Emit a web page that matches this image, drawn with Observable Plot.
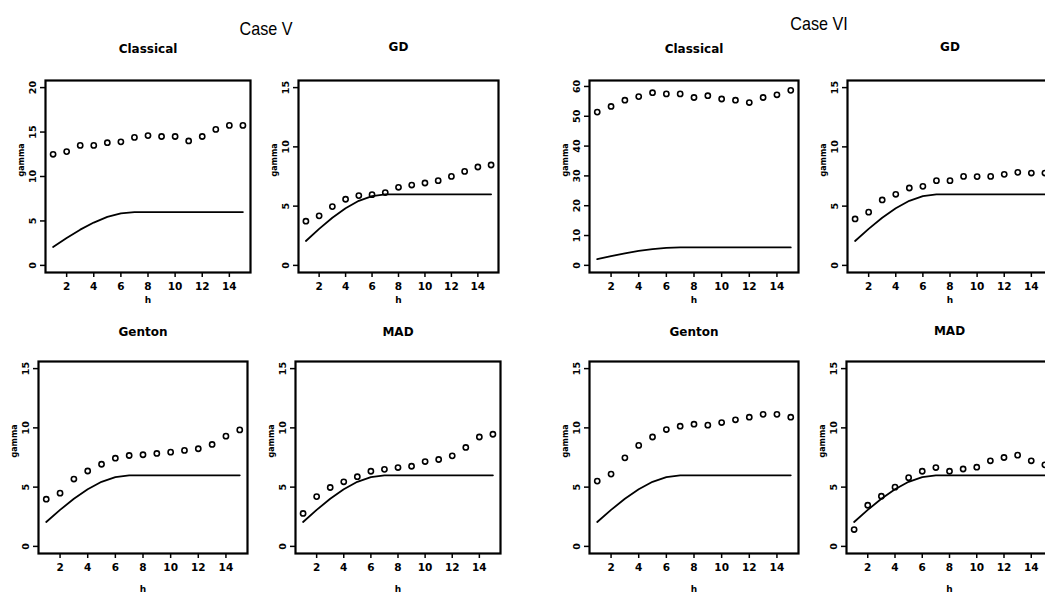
<!DOCTYPE html>
<html>
<head>
<meta charset="utf-8">
<script src="https://cdn.jsdelivr.net/npm/d3@7"></script>
<script src="https://cdn.jsdelivr.net/npm/@observablehq/plot@0.6"></script>
<style>
  html, body { margin: 0; padding: 0; background: #fff; overflow: hidden; }
  #wrap { position: relative; width: 1045px; height: 597px; overflow: hidden; background: #fff; }
  #wrap > div.panel { position: absolute; }
  #wrap svg { max-width: none !important; }
  .case { position: absolute; font-family: 'Liberation Sans', 'DejaVu Sans', sans-serif; font-size: 19px; color: #000; transform: translate(-50%, -50%) scaleX(0.85); white-space: nowrap; }
</style>
</head>
<body>
<div id="wrap"></div>
<script>
// ---- data ----
const lags = [1, 2, 3, 4, 5, 6, 7, 8, 9, 10, 11, 12, 13, 14, 15];
const theoretical = [2.06, 3.08, 4.02, 4.82, 5.45, 5.85, 6.0, 6.0, 6.0, 6.0, 6.0, 6.0, 6.0, 6.0, 6.0];

const caseV_classical = [12.5, 12.8, 13.5, 13.5, 13.8, 13.9, 14.4, 14.6, 14.5, 14.5, 14.0, 14.5, 15.3, 15.75, 15.75];
const caseV_GD        = [3.73, 4.18, 4.96, 5.58, 5.89, 5.97, 6.14, 6.59, 6.78, 6.95, 7.15, 7.51, 7.93, 8.3, 8.47];
const caseV_Genton    = [3.98, 4.49, 5.68, 6.36, 6.93, 7.44, 7.67, 7.73, 7.84, 7.95, 8.1, 8.24, 8.6, 9.3, 9.83];
const caseV_MAD       = [2.78, 4.2, 4.97, 5.45, 5.88, 6.34, 6.5, 6.65, 6.76, 7.16, 7.33, 7.64, 8.35, 9.23, 9.46];

const caseVI_classical = [51.4, 53.3, 55.4, 56.6, 57.9, 57.5, 57.5, 56.3, 56.9, 55.8, 55.4, 54.6, 56.3, 57.2, 58.7];
const caseVI_GD        = [3.92, 4.49, 5.52, 6.0, 6.53, 6.67, 7.15, 7.15, 7.51, 7.49, 7.51, 7.68, 7.85, 7.79, 7.79];
const caseVI_Genton    = [5.51, 6.1, 7.47, 8.52, 9.23, 9.86, 10.14, 10.31, 10.23, 10.45, 10.68, 10.9, 11.14, 11.14, 10.9];
const caseVI_MAD       = [1.42, 3.47, 4.23, 5.0, 5.8, 6.34, 6.65, 6.34, 6.53, 6.68, 7.22, 7.5, 7.7, 7.22, 6.88];

const xTicks = [2, 4, 6, 8, 10, 12, 14];
const yTicks15 = [0, 5, 10, 15];
const yTicks20 = [0, 5, 10, 15, 20];
const yTicks60 = [0, 10, 20, 30, 40, 50, 60];

const caseTitles = ["Case V", "Case VI"];
const panelTitles = ["Classical", "GD", "Genton", "MAD"];

// ---- layout (positions / styles only) ----
const FONT = "'DejaVu Sans', sans-serif";
const ML = 40, MR = 6, MT = 50, MB = 45, BOXH = 192;

const panels = [
  {title: panelTitles[0], values: caseV_classical, yDomain: [-0.8, 20.8], yTicks: yTicks20, bx: 45,  by: 80,  bw: 205, hOff: 30, tOff: -36},
  {title: panelTitles[1], values: caseV_GD,        yDomain: [-0.6, 15.6], yTicks: yTicks15, bx: 298, by: 80,  bw: 200, hOff: 30, tOff: -38},
  {title: panelTitles[0], values: caseVI_classical,yDomain: [-2.4, 62],   yTicks: yTicks60, bx: 589, by: 80,  bw: 209, hOff: 30, tOff: -36},
  {title: panelTitles[1], values: caseVI_GD,       yDomain: [-0.6, 15.6], yTicks: yTicks15, bx: 847, by: 80,  bw: 205, hOff: 30, tOff: -38},
  {title: panelTitles[2], values: caseV_Genton,    yDomain: [-0.6, 15.6], yTicks: yTicks15, bx: 38,  by: 361, bw: 209, hOff: 38, tOff: -34},
  {title: panelTitles[3], values: caseV_MAD,       yDomain: [-0.6, 15.6], yTicks: yTicks15, bx: 295, by: 361, bw: 205, hOff: 38, tOff: -34},
  {title: panelTitles[2], values: caseVI_Genton,   yDomain: [-0.6, 15.6], yTicks: yTicks15, bx: 589, by: 361, bw: 209, hOff: 38, tOff: -34},
  {title: panelTitles[3], values: caseVI_MAD,      yDomain: [-0.6, 15.6], yTicks: yTicks15, bx: 846, by: 361, bw: 206, hOff: 38, tOff: -35}
];

const wrap = document.getElementById("wrap");

function makePanel(p) {
  const rows = lags.map((h, i) => ({h, g: p.values[i], t: theoretical[i]}));
  const W = p.bw + ML + MR, H = BOXH + MT + MB;
  const chart = Plot.plot({
    width: W,
    height: H,
    marginLeft: ML, marginRight: MR, marginTop: MT, marginBottom: MB,
    style: {fontFamily: FONT, background: "transparent", overflow: "visible", color: "#000", maxWidth: "none"},
    x: {domain: [0.44, 15.56]},
    y: {domain: p.yDomain},
    marks: [
      Plot.axisX({ticks: xTicks, tickSize: 5, tickPadding: 5, tickFormat: d => String(d), fontSize: 10.5, fontWeight: "bold", label: null, strokeWidth: 1.5}),
      Plot.axisY({ticks: p.yTicks, tickSize: 5, tickFormat: () => "", label: null, strokeWidth: 1.5}),
      Plot.text(p.yTicks, {y: d => d, text: d => String(d), frameAnchor: "left", dx: -13, rotate: -90, fontSize: 9.5, fontWeight: "bold", textAnchor: "middle"}),
      Plot.frame({stroke: "#000", strokeWidth: 2.2}),
      Plot.lineY(rows, {x: "h", y: "t", stroke: "#000", strokeWidth: 1.8}),
      Plot.dot(rows, {x: "h", y: "g", r: 2.6, stroke: "#000", strokeWidth: 1.6, fill: "none"}),
      Plot.text([p.title], {frameAnchor: "top", dy: p.tOff, fontSize: 12, fontWeight: "bold", text: d => d}),
      Plot.text(["h"], {frameAnchor: "bottom", dy: p.hOff, fontSize: 9, fontWeight: "bold", text: d => d}),
      Plot.text(["gamma"], {frameAnchor: "left", dx: -24, rotate: -90, fontSize: 8, fontWeight: "bold", text: d => d})
    ]
  });
  const holder = document.createElement("div");
  holder.className = "panel";
  holder.style.left = (p.bx - ML) + "px";
  holder.style.top = (p.by - MT) + "px";
  holder.style.width = W + "px";
  holder.style.height = H + "px";
  holder.appendChild(chart);
  wrap.appendChild(holder);
}

panels.forEach(makePanel);

const casePos = [{x: 266, y: 29}, {x: 819, y: 24}];
caseTitles.forEach((t, i) => {
  const d = document.createElement("div");
  d.className = "case";
  d.textContent = t;
  d.style.left = casePos[i].x + "px";
  d.style.top = casePos[i].y + "px";
  wrap.appendChild(d);
});
</script>
</body>
</html>
